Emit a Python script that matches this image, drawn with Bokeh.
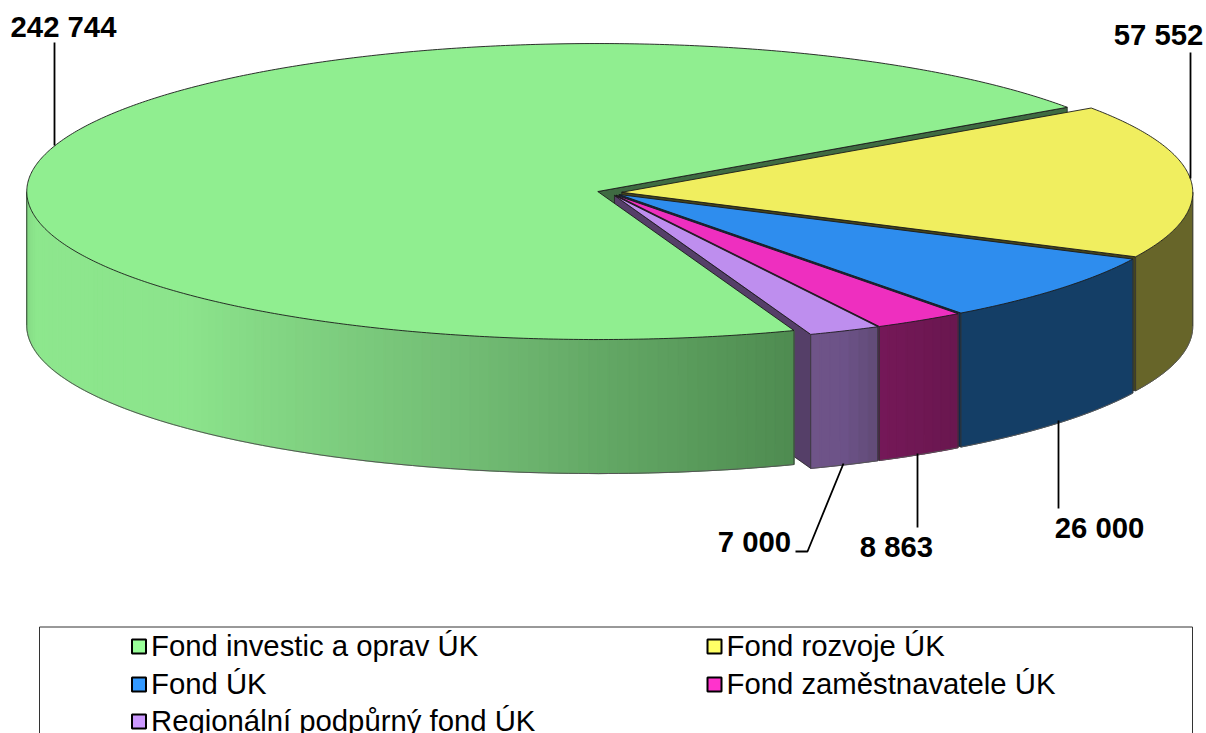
import math
from bokeh.plotting import figure
from bokeh.models import Range1d
from bokeh.core.properties import value
from bokeh.embed import file_html
from bokeh.resources import INLINE

categories = ["Fond investic a oprav ÚK", "Fond rozvoje ÚK", "Fond ÚK",
              "Fond zaměstnavatele ÚK", "Regionální podpůrný fond ÚK"]
values = [242744, 57552, 26000, 8863, 7000]
top_colors = ["#90EE90", "#F0EE5F", "#2E8DEE", "#EE2FBF", "#BE8EEE"]
key_colors = ["#99FF99", "#FFFF66", "#3399FF", "#FF33CC", "#CC99FF"]
cut_colors = ["#3F6B42", "#45441C", "#0E2C49", "#3D0C2C", "#553F68"]
wall_stops = [
    [(0.0, "#7FD07F"), (0.10, "#8DE78D"), (0.40, "#8CE48C"), (0.70, "#72BC74"), (1.0, "#4E8B50")],
    [(0.0, "#676529"), (1.0, "#676529")],
    [(0.0, "#143E66"), (1.0, "#143E66")],
    [(0.0, "#751858"), (1.0, "#69174F")],
    [(0.0, "#6F5488"), (0.5, "#6C5288"), (1.0, "#614B76")],
]

# layout of the pie, in page pixels
CX, CY = 609.0, 192.0
RX, RY = 571.0, 148.0
DEPTH = 134.0
EXPLODE = 12.3
START_DEG = 290.1  # slices run clockwise from here

total = sum(values)
spans = [v / total * 360 for v in values]
ranges = []
a = START_DEG
for s in spans:
    ranges.append((a - s, a))
    a -= s


def hex_rgb(h):
    return tuple(int(h[i:i + 2], 16) for i in (1, 3, 5))


def ramp(stops, t):
    for (t0, c0), (t1, c1) in zip(stops, stops[1:]):
        if t <= t1:
            f = (t - t0) / (t1 - t0) if t1 > t0 else 0
            r0, r1 = hex_rgb(c0), hex_rgb(c1)
            return "#%02x%02x%02x" % tuple(round(x + (y - x) * f) for x, y in zip(r0, r1))
    return stops[-1][1]


def apex(i):
    mid = math.radians(sum(ranges[i]) / 2)
    return CX + EXPLODE * math.cos(mid), CY - EXPLODE * RY / RX * math.sin(mid)


def rim(i, deg):
    ax, ay = apex(i)
    r = math.radians(deg)
    return ax + RX * math.cos(r), ay - RY * math.sin(r)


def arc(i, d0, d1, step=1.0):
    n = max(2, int(abs(d1 - d0) / step) + 1)
    return [rim(i, d0 + (d1 - d0) * k / (n - 1)) for k in range(n)]


p = figure(width=1206, height=733, x_range=Range1d(0, 1206), y_range=Range1d(733, 0),
           output_backend="svg", toolbar_location=None, min_border=0,
           outline_line_color=None, background_fill_color="white")
p.axis.visible = False
p.grid.visible = False


def poly(pts, fill, line=None, width=0.8):
    p.patch([q[0] for q in pts], [q[1] for q in pts], fill_color=fill,
            line_color=line if line else fill, line_width=width)


def cut_face(i, deg):
    ax, ay = apex(i)
    rx_, ry_ = rim(i, deg)
    poly([(ax, ay), (rx_, ry_), (rx_, ry_ + DEPTH), (ax, ay + DEPTH)], cut_colors[i], "#222222", 0.8)


def front_wall(i, d0, d1, step=1.0):
    pts = arc(i, d0, d1, step)
    if wall_stops[i][0][1] == wall_stops[i][-1][1]:
        # a single flat colour needs a single polygon
        outline = pts + [(q[0], q[1] + DEPTH) for q in reversed(pts)]
        poly(outline, wall_stops[i][0][1])
    else:
        xs, ys, cols = [], [], []
        for k, (q0, q1) in enumerate(zip(pts, pts[1:])):
            xs.append([q0[0], q1[0], q1[0], q0[0]])
            ys.append([q0[1], q1[1], q1[1] + DEPTH, q0[1] + DEPTH])
            cols.append(ramp(wall_stops[i], (k + 0.5) / (len(pts) - 1)))
        p.patches(xs, ys, fill_color=cols, line_color=cols, line_width=1.2)
    p.line([q[0] for q in pts], [q[1] + DEPTH for q in pts], line_color="#555555", line_width=1)
    for q in (pts[0], pts[-1]):
        p.line([q[0], q[0]], [q[1], q[1] + DEPTH], line_color="#333333", line_width=0.9)


def top_face(i):
    ax, ay = apex(i)
    d0, d1 = ranges[i]
    poly([(ax, ay)] + arc(i, d0, d1, 0.5), top_colors[i], "#1A1A1A", 0.9)


# painted back to front
cut_face(0, ranges[0][0])
for i in (1, 2, 3):
    lo, hi = ranges[i]
    cut_face(i, lo)
    front_wall(i, lo, min(hi, 0.0))
    top_face(i)
cut_face(4, ranges[4][0])
front_wall(0, 180.0, ranges[0][1])
top_face(0)
front_wall(4, ranges[4][0], ranges[4][1])
top_face(4)

# leader lines and value labels
leaders = [
    ([54, 54], [42, 145]),
    ([1190, 1190], [52, 178]),
    ([1058, 1058], [420, 508]),
    ([917, 917], [453, 527]),
    ([843, 807, 795], [463, 551, 551]),
]
for lx, ly in leaders:
    p.line(lx, ly, line_color="#000000", line_width=1.8)

label_x = [63, 1158, 1099, 896, 754]
label_y = [26, 34, 527, 546, 541]
p.text(label_x, label_y, text=[f"{v:,}".replace(",", " ") for v in values],
       text_font=value("Liberation Sans"), text_font_style="bold", text_font_size="29.3px",
       text_align="center", text_baseline="middle", text_color="#000000")

# legend
p.line([39, 39, 1192, 1192], [760, 626.5, 626.5, 760], line_color="#333333", line_width=1)
key_x = [138.5, 714, 138.5, 714, 138.5]
key_y = [646, 646, 684, 684, 721]
p.rect(key_x, key_y, width=14, height=14, fill_color=key_colors, line_color="#000000", line_width=2)
p.text([x + 12 for x in key_x], [y - 1.5 for y in key_y], text=categories,
       text_font=value("Liberation Sans"), text_font_size="29.3px",
       text_align="left", text_baseline="middle", text_color="#000000")

open("out.html", "w").write(file_html(p, INLINE))
